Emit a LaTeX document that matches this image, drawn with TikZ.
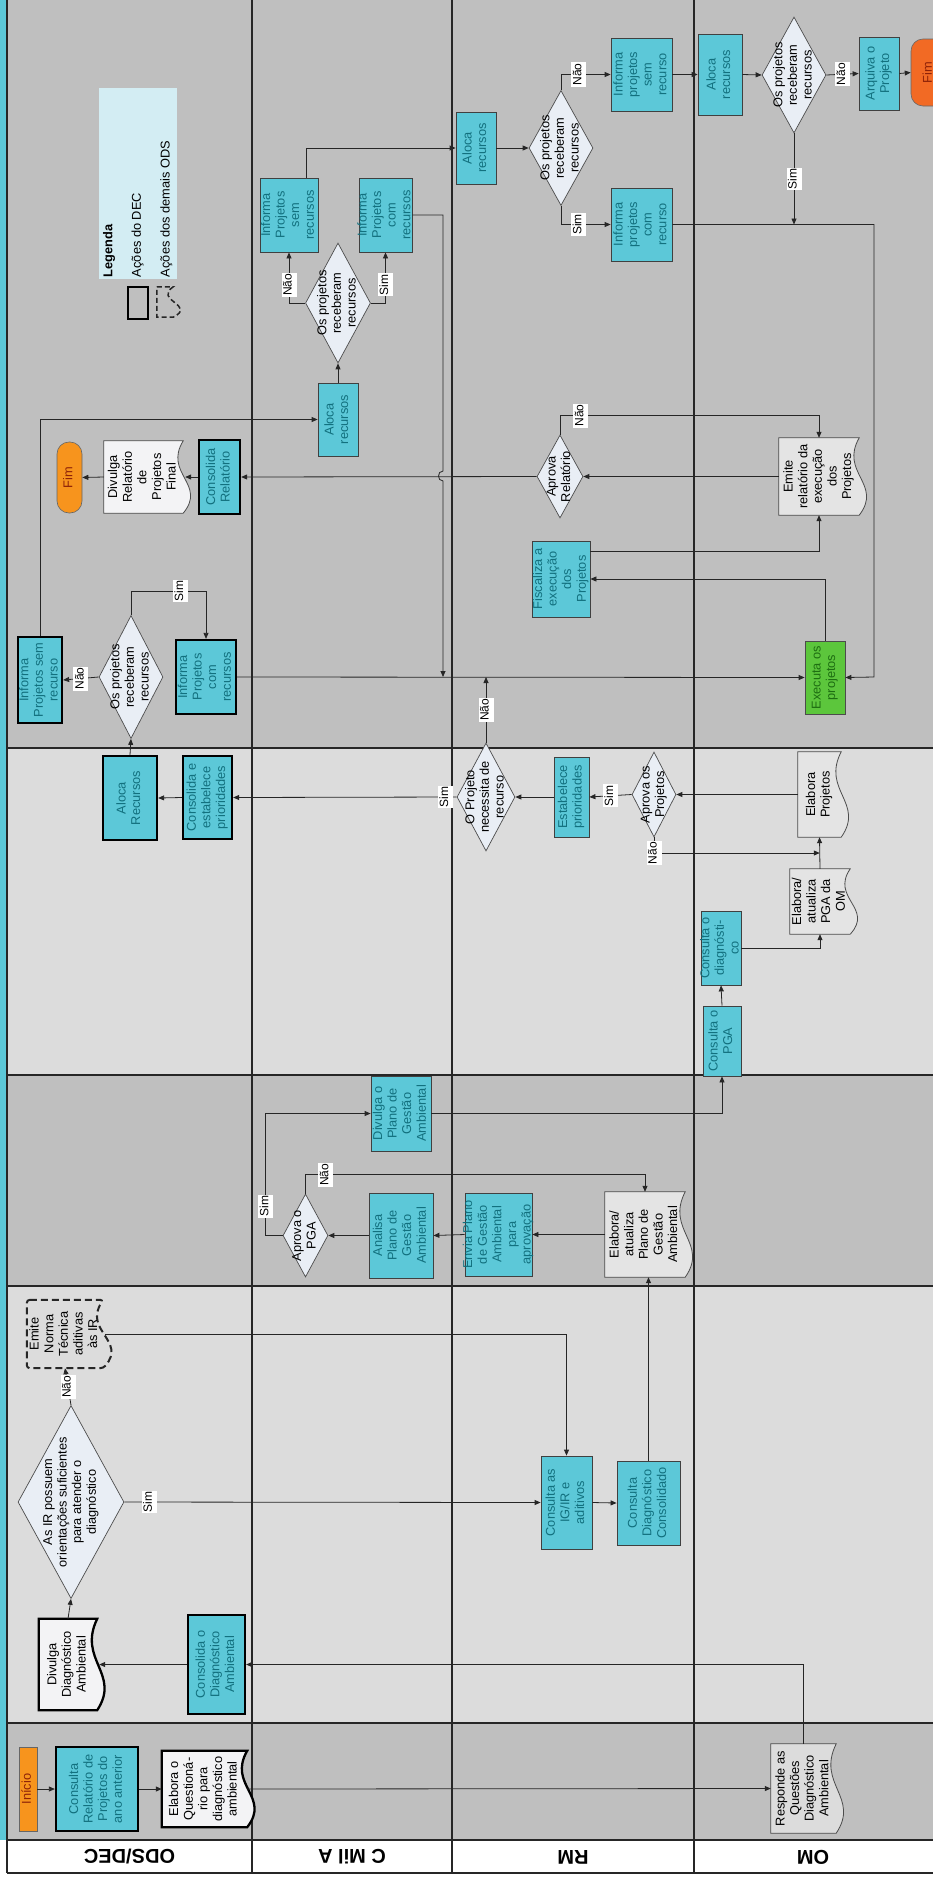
\documentclass[tikz,border=0pt]{standalone}
\usepackage{fontspec}
\setmainfont{Liberation Sans}
\usepackage{tikz}
\usetikzlibrary{shapes.geometric,arrows.meta,calc}

\definecolor{midgray}{HTML}{BFBFBF}
\definecolor{lightgray2}{HTML}{DCDCDC}
\definecolor{procfill}{HTML}{5CC8D8}
\definecolor{proctext}{HTML}{12707E}
\definecolor{diafill}{HTML}{E9EEF5}
\definecolor{docfill}{HTML}{E4E4E4}
\definecolor{docwhite}{HTML}{F3F3F5}
\definecolor{startorange}{HTML}{F7941D}
\definecolor{endred}{HTML}{F26A24}
\definecolor{darkred}{HTML}{8E2208}
\definecolor{execgreen}{HTML}{5CC63C}
\definecolor{exectext}{HTML}{1E6E12}
\definecolor{legfill}{HTML}{D3EDF3}

\newcommand\boxfont{\fontsize{12.8}{14.6}\selectfont}
\newcommand\lblfont{\fontsize{12}{13}\selectfont}
\newcommand\lanefont{\fontsize{20}{22}\selectfont\bfseries}
\newcommand\uptext[1]{\rotatebox{90}{\begin{tabular}{@{}c@{}}#1\end{tabular}}}
\newcommand\boxtext[1]{\makebox[0pt]{\raisebox{-.5\totalheight}[0pt][0pt]{\uptext{#1}}}}
% document shape with wavy right side
\newcommand\docshape[2][docline]{%
  \begin{pgfonlayer}{docs}
  \path[#1] (#2.north west) -- (#2.north east)
    .. controls ($(#2.north east)!.45!(#2.south east)+(-20,0)$)
            and ($(#2.north east)!.6!(#2.south east)+(24,0)$) .. (#2.south east)
    -- (#2.south west) -- cycle;
  \end{pgfonlayer}}

\pgfdeclarelayer{lanes}
\pgfdeclarelayer{docs}
\pgfsetlayers{lanes,docs,main}

\begin{document}
\begin{tikzpicture}[x=1pt, y=-1pt,
    every node/.style={inner sep=0pt, font=\boxfont},
    sz/.style 2 args={minimum width=#1pt, minimum height=#2pt},
    proc/.style={rectangle, draw=black!75, line width=0.8pt, fill=procfill, text=proctext},
    dec/.style={proc, draw=black, line width=2.3pt},
    cond/.style={diamond, draw=black!70, line width=0.7pt, fill=diafill, text=black},
    docnode/.style={rectangle, text=black},
    docline/.style={fill=docfill, draw=black!70, line width=0.8pt},
    docthick/.style={fill=docwhite, draw=black, line width=2.3pt},
    docdash/.style={fill=lightgray2, draw=black!85, line width=2pt, dash pattern=on 7pt off 4pt, rounded corners=3pt},
    startbox/.style={rectangle, fill=startorange, draw=black!60, line width=0.6pt, text=darkred},
    endbox/.style={rectangle, rounded corners=12pt, fill=startorange, draw=black!60, line width=0.6pt, text=darkred},
    execbox/.style={rectangle, fill=execgreen, draw=black!70, line width=0.8pt, text=exectext},
    lbl/.style={fill=white, inner sep=1pt, text=black, font=\lblfont},
    flow/.style={draw=black!85, line width=0.8pt, -{Triangle[length=6pt,width=5pt]}},
    laneline/.style={draw=black!85, line width=1.3pt},
    lanelbl/.style={text=black, font=\lanefont}]

  \useasboundingbox (0,0) rectangle (933,1879);

  % Lanes and phases
  \begin{pgfonlayer}{lanes}
    \fill[procfill] (0,0) rectangle (7,1840);
    \fill[white] (0,1840) rectangle (933,1879);
    \fill[midgray] (7,0) rectangle (933,748);
    \fill[lightgray2] (7,748) rectangle (933,1075);
    \fill[midgray] (7,1075) rectangle (933,1286);
    \fill[lightgray2] (7,1286) rectangle (933,1723);
    \fill[midgray] (7,1723) rectangle (933,1840);
    \foreach \y in {748,1075,1286,1723,1840,1873}
      \draw[laneline] (7,\y) -- (933,\y);
    \foreach \x in {7,252,452,694}
      \draw[laneline] (\x,0) -- (\x,1873);
  \end{pgfonlayer}

  % Lane labels
  \node[lanelbl] (hdOds) at (129.5,1857) {\rotatebox{180}{ODS/DEC}};
  \node[lanelbl] (hdCmil) at (352,1857) {\rotatebox{180}{C Mil A}};
  \node[lanelbl] (hdRm) at (573,1857) {\rotatebox{180}{RM}};
  \node[lanelbl] (hdOm) at (813,1857) {\rotatebox{180}{OM}};

  % Legend
  \node[rectangle, fill=legfill, sz={78}{191}] (legend) at (138,183.5) {};
  \node[anchor=south, text=black] (legtxt) at ([yshift=2pt]legend.south)
    {\rotatebox{90}{\begin{tabular}{@{}l@{}}\textbf{Legenda}\\[14pt]Ações do DEC\\[14pt]Ações dos demais ODS\end{tabular}}};
  \node[rectangle, draw=black, line width=2.3pt, sz={20}{32}] (legDec) at (138,303) {};
  \node[docnode, sz={16}{30}] (legOds) at (165,302) {};
  \docshape[draw=black!85, line width=1.5pt, dash pattern=on 5pt off 3pt]{legOds}

  % ODS/DEC
  \node[startbox, sz={18}{84}] (inicio) at (28,1789) {\boxtext{Início}};
  \node[dec, sz={82}{84}] (consRel) at (97,1789) {\boxtext{Consulta\\Relatório de\\Projetos do\\ano anterior}};
  \node[docnode, sz={85}{76}] (elabQuest) at (204.5,1789) {\boxtext{Elabora o\\Questioná-\\rio para\\diagnóstico\\ambiental}};
  \node[dec, sz={57}{99}] (consDiag) at (216.5,1664.5) {\boxtext{Consolida o\\Diagnóstico\\Ambiental}};
  \node[docnode, sz={58}{91}] (divDiag) at (68,1664.5) {\boxtext{Divulga\\Diagnóstico\\Ambiental}};
  \node[cond, sz={106}{193}] (irDec) at (71,1502) {\boxtext{As IR possuem\\orientações suficientes\\para atender o\\diagnóstico}};
  \node[docnode, sz={76}{68}] (emiteNorma) at (65,1334) {\boxtext{Emite\\Norma\\Técnica\\aditivas\\às IR}};
  \node[dec, sz={54}{84}] (alocaRec) at (130,798) {\boxtext{Aloca\\Recursos}};
  \node[dec, sz={49}{83}] (consEst) at (207.5,797.5) {\boxtext{Consolida e\\estabelece\\prioridades}};
  \node[cond, sz={64}{123}] (projDec1) at (131,677) {\boxtext{Os projetos\\receberam\\recursos}};
  \node[dec, sz={44}{86}] (infSem1) at (40,680) {\boxtext{Informa\\Projetos sem\\recurso}};
  \node[dec, sz={60}{74}] (infCom1) at (206,677) {\boxtext{Informa\\Projetos\\com\\recursos}};
  \node[dec, sz={41}{74}] (consRelat) at (219.5,477) {\boxtext{Consolida\\Relatório}};
  \node[docnode, sz={79}{72}] (divRelat) at (143.5,477) {\boxtext{Divulga\\Relatório\\de\\Projetos\\Final}};
  \node[endbox, sz={25}{71}] (fim1) at (69.5,477.5) {\boxtext{Fim}};

  % C Mil A
  \node[proc, sz={58}{74}] (infSem2) at (289,215) {\boxtext{Informa\\Projetos\\sem\\recursos}};
  \node[proc, sz={53}{74}] (infCom2) at (385.5,215) {\boxtext{Informa\\Projetos\\com\\recursos}};
  \node[cond, sz={65}{120}] (projDec2) at (338,303) {\boxtext{Os projetos\\receberam\\recursos}};
  \node[proc, sz={40}{73}] (alocaRec2) at (338,419.5) {\boxtext{Aloca\\recursos}};
  \node[proc, sz={60}{75}] (divPGA) at (401,1113.5) {\boxtext{Divulga o\\Plano de\\Gestão\\Ambiental}};
  \node[cond, sz={45}{83}] (aprovaPGA) at (305.5,1235.5) {\boxtext{Aprova o\\PGA}};
  \node[proc, sz={64}{85}] (analisa) at (401,1235.5) {\boxtext{Analisa\\Plano de\\Gestão\\Ambiental}};

  % RM
  \node[proc, sz={40}{72}] (alocaRec3) at (476,148) {\boxtext{Aloca\\recursos}};
  \node[cond, sz={64}{115}] (projDec3) at (561,148) {\boxtext{Os projetos\\receberam\\recursos}};
  \node[proc, sz={61}{73}] (infSem3) at (641.5,74.5) {\boxtext{Informa\\projetos\\sem\\recurso}};
  \node[proc, sz={61}{73}] (infCom3) at (641.5,224.5) {\boxtext{Informa\\projetos\\com\\recurso}};
  \node[cond, sz={46}{83}] (aprovaRel) at (560,476.5) {\boxtext{Aprova\\Relatório}};
  \node[proc, sz={58}{76}] (fiscaliza) at (561,579) {\boxtext{Fiscaliza a\\execução\\dos\\Projetos}};
  \node[cond, sz={58}{108}] (necDec) at (486,797) {\boxtext{O Projeto\\necessita de\\recurso}};
  \node[proc, sz={35}{80}] (estab) at (571.5,797) {\boxtext{Estabelece\\prioridades}};
  \node[cond, sz={44}{85}] (aprovaProj) at (654,794.5) {\boxtext{Aprova os\\Projetos}};
  \node[proc, sz={67}{83}] (envia) at (498.5,1234.5) {\boxtext{Envia Plano\\de Gestão\\Ambiental\\para\\aprovação}};
  \node[docnode, sz={80}{85}] (elabPlano) at (645,1234.5) {\boxtext{Elabora/\\atualiza\\Plano de\\Gestão\\Ambiental}};
  \node[proc, sz={51}{93}] (consIG) at (566.5,1502.5) {\boxtext{Consulta as\\IG/IR e\\aditivos}};
  \node[proc, sz={63}{84}] (consDiagCons) at (648.5,1503) {\boxtext{Consulta\\Diagnóstico\\Consolidado}};

  % OM
  \node[proc, sz={44}{81}] (alocaRec4) at (720,74.5) {\boxtext{Aloca\\recursos}};
  \node[cond, sz={64}{116}] (projDec4) at (794,75) {\boxtext{Os projetos\\receberam\\recursos}};
  \node[proc, sz={40}{73}] (arquiva) at (879,73.5) {\boxtext{Arquiva o\\Projeto}};
  \node[endbox, fill=endred, sz={36}{67}] (fim2) at (929,72.5) {\boxtext{Fim}};
  \node[docnode, sz={80}{77}] (emiteRel) at (819,476.5) {\boxtext{Emite\\relatório da\\execução\\dos\\Projetos}};
  \node[execbox, sz={40}{73}] (executa) at (825,677.5) {\boxtext{Executa os\\projetos}};
  \node[docnode, sz={43}{85}] (elabProj) at (819.5,794.5) {\boxtext{Elabora\\Projetos}};
  \node[docnode, sz={60}{65}] (elabPGAom) at (820,901.5) {\boxtext{Elabora/\\atualiza\\PGA da\\OM}};
  \node[proc, sz={40}{74}] (consDiagOM) at (721,948) {\boxtext{Consulta o\\diagnósti-\\co}};
  \node[proc, sz={38}{70}] (consPGA) at (722,1041) {\boxtext{Consulta o\\PGA}};
  \node[docnode, sz={65}{89}] (responde) at (803.5,1788.5) {\boxtext{Responde as\\Questões\\Diagnóstico\\Ambiental}};

  % Document outlines
  \docshape[docthick]{elabQuest}
  \docshape[docthick]{divDiag}
  \docshape[docdash]{emiteNorma}
  \docshape[docline, fill=docwhite]{divRelat}
  \docshape{elabPlano}
  \docshape{emiteRel}
  \docshape{elabProj}
  \docshape{elabPGAom}
  \docshape[docline, fill=lightgray2]{responde}

  % Junctions
  \coordinate (hopTop) at (443,471);
  \coordinate (hopBot) at (443,481);
  \coordinate (joinA) at (443,677);
  \coordinate (joinB) at (874,677);

  % Diagnostic phase
  \draw[flow] (inicio.east) -- (consRel.west);
  \draw[flow] (consRel.east) -- (elabQuest.west);
  \draw[flow] (elabQuest.east) -- (responde.west);
  \draw[flow] (responde.north) |- (consDiag.east);
  \draw[flow] (consDiag.west) -- ([xshift=2pt]divDiag.east);
  \draw[flow] (divDiag.north) -- (irDec.south);
  \draw[flow] (irDec.north) -- node[lbl] (irNao) {\uptext{Não}} (emiteNorma.south);
  \draw[flow] (irDec.east) -- node[lbl, pos=.06] (irSim) {\uptext{Sim}} (consIG.west);
  \draw[flow] ([xshift=2pt]emiteNorma.east) -| (consIG.north);
  \draw[flow] (consIG.east) -- (consDiagCons.west);
  \draw[flow] (consDiagCons.north) -- (consDiagCons.north |- elabPlano.south);

  % Plano de Gestao Ambiental
  \draw[flow] (elabPlano.west) -- (envia.east);
  \draw[flow] (envia.west) -- (analisa.east);
  \draw[flow] (analisa.west) -- (aprovaPGA.east);
  \draw[flow] (aprovaPGA.west) -- ++(-17,0) |- node[lbl, pos=.12] (pgaSim) {\uptext{Sim}} (divPGA.west);
  \draw[flow] (aprovaPGA.north) -- ++(0,-19) -| node[lbl, pos=.03] (pgaNao) {\uptext{Não}} (elabPlano.north);
  \draw[flow] (divPGA.east) -| (consPGA.south);
  \draw[flow] (consPGA.north) -- (consDiagOM.south);
  \draw[flow] (consDiagOM.east) -| (elabPGAom.south);

  % Projetos
  \draw[flow] (elabPGAom.north) -- (elabProj.south);
  \draw[flow] (elabProj.west) -- (aprovaProj.east);
  \draw[flow] (aprovaProj.west) -- node[lbl] (projSim) {\uptext{Sim}} (estab.east);
  \draw[flow] (aprovaProj.south) |- node[lbl] (projNao) {\uptext{Não}} ($(elabProj.south)!.5!(elabPGAom.north)$);
  \draw[flow] (estab.west) -- (necDec.east);
  \draw[flow] (necDec.west) -- node[lbl, pos=.05] (necSim) {\uptext{Sim}} (consEst.east);
  \draw[flow] (necDec.north) -- node[lbl] (necNao) {\uptext{Não}} (necDec.north |- infCom1.east);
  \draw[flow] (consEst.west) -- (alocaRec.east);
  \draw[flow] (alocaRec.north) -- (projDec1.south);
  \draw[flow] (projDec1.west) -- node[lbl] (dec1Nao) {\uptext{Não}} (infSem1.east);
  \draw[flow] (projDec1.north) -- ++(0,-24) -| node[lbl, pos=.33] (dec1Sim) {\uptext{Sim}} (infCom1.north);
  \draw[flow] (infCom1.east) -- (executa.west);

  % Recursos
  \draw[flow] (infSem1.north) |- (alocaRec2.west);
  \draw[flow] (alocaRec2.north) -- (projDec2.south);
  \draw[flow] (projDec2.west) -| node[lbl, pos=.68] (dec2Nao) {\uptext{Não}} (infSem2.south);
  \draw[flow] (projDec2.east) -| node[lbl, pos=.68] (dec2Sim) {\uptext{Sim}} (infCom2.south);
  \draw[flow] ([xshift=17pt]infSem2.north) |- (alocaRec3.west);
  \draw[flow] (infCom2.east) -| (hopTop) .. controls +(-6,0) and +(-6,0) .. (hopBot) -- (joinA);
  \draw[flow] (alocaRec3.east) -- (projDec3.west);
  \draw[flow] (projDec3.north) |- node[lbl, pos=.68] (dec3Nao) {\uptext{Não}} (infSem3.west);
  \draw[flow] (projDec3.south) |- node[lbl, pos=.68] (dec3Sim) {\uptext{Sim}} (infCom3.west);
  \draw[flow] (infSem3.east) -- (alocaRec4.west);
  \draw[flow] (alocaRec4.east) -- (projDec4.west);
  \draw[flow] (projDec4.east) -- node[lbl] (dec4Nao) {\uptext{Não}} (arquiva.west);
  \draw[flow] (arquiva.east) -- (fim2.west);
  \draw[flow] (infCom3.east) -| (joinB) -- (executa.east);
  \draw[flow] (projDec4.south) -- node[lbl] (dec4Sim) {\uptext{Sim}} (projDec4.south |- infCom3.east);

  % Execucao e relatorio
  \draw[flow] (executa.north) |- (fiscaliza.east);
  \draw[flow] ([yshift=28pt]fiscaliza.east) -| (emiteRel.south);
  \draw[flow] (emiteRel.west) -- (aprovaRel.east);
  \draw[flow] (aprovaRel.north) -- ++(0,-19) -| node[lbl, pos=.04] (relNao) {\uptext{Não}} (emiteRel.north);
  \draw[flow] (aprovaRel.west) -- (consRelat.east);
  \draw[flow] (consRelat.west) -- ([xshift=2pt]divRelat.east);
  \draw[flow] (divRelat.west) -- (fim1.east);
\end{tikzpicture}
\end{document}
